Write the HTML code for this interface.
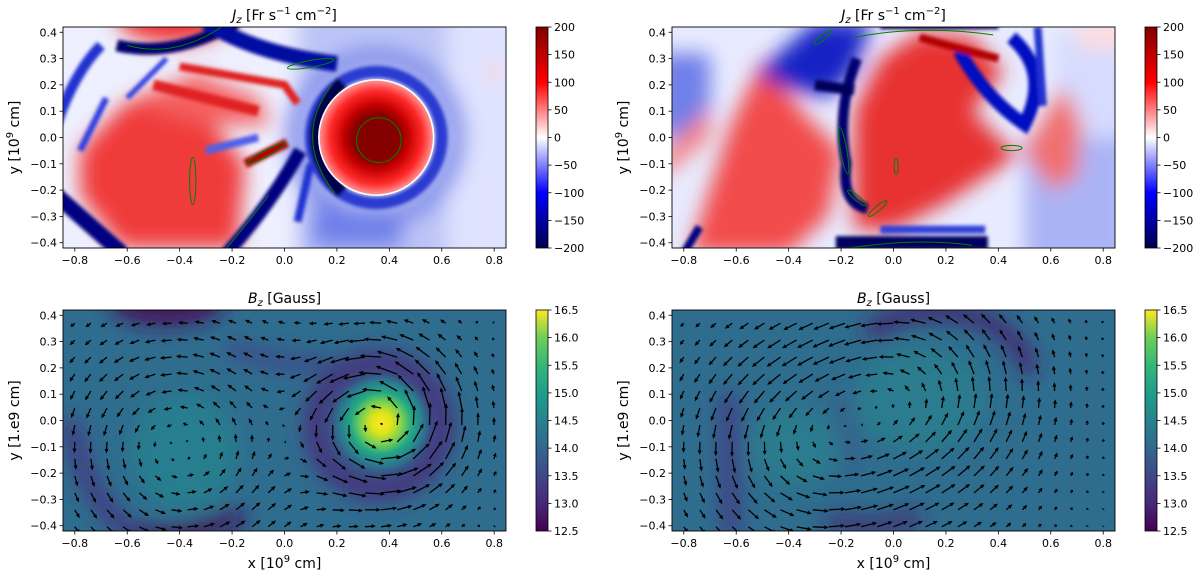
<!DOCTYPE html>
<html><head><meta charset="utf-8"><style>
html,body{margin:0;padding:0;background:#fff;}
svg{display:block;font-family:"DejaVu Sans","Liberation Sans",sans-serif;}
</style></head><body>
<svg id="fig" width="1200" height="578" viewBox="0 0 1200 578" xmlns="http://www.w3.org/2000/svg">
<defs>
  <filter id="pb2" filterUnits="userSpaceOnUse" x="0" y="0" width="1200" height="578"><feGaussianBlur stdDeviation="1.8"/></filter>
  <filter id="pb6" filterUnits="userSpaceOnUse" x="0" y="0" width="1200" height="578"><feGaussianBlur stdDeviation="6"/></filter>
  <filter id="pb10" filterUnits="userSpaceOnUse" x="0" y="0" width="1200" height="578"><feGaussianBlur stdDeviation="10"/></filter>
  <radialGradient id="redDisk"><stop offset="0" stop-color="#800000"/><stop offset="0.42" stop-color="#880000"/><stop offset="0.58" stop-color="#c80000"/><stop offset="0.82" stop-color="#ff2a2a"/><stop offset="1" stop-color="#ff9090"/></radialGradient>
  <radialGradient id="yellowBlob"><stop offset="0" stop-color="#fde725"/><stop offset="0.2" stop-color="#e2e418"/><stop offset="0.42" stop-color="#7ad151"/><stop offset="0.62" stop-color="#22a884"/><stop offset="0.82" stop-color="#2a7f8e"/><stop offset="1" stop-color="#2e6e8e" stop-opacity="0"/></radialGradient>
  <linearGradient id="cbSeismic" x1="0" y1="1" x2="0" y2="0"><stop offset="0" stop-color="#00004c"/><stop offset="0.25" stop-color="#0000ff"/><stop offset="0.5" stop-color="#ffffff"/><stop offset="0.75" stop-color="#ff0000"/><stop offset="1" stop-color="#800000"/></linearGradient>
  <linearGradient id="cbViridis" x1="0" y1="1" x2="0" y2="0"><stop offset="0" stop-color="#440154"/><stop offset="0.125" stop-color="#482878"/><stop offset="0.25" stop-color="#3e4989"/><stop offset="0.375" stop-color="#31688e"/><stop offset="0.5" stop-color="#26828e"/><stop offset="0.625" stop-color="#1f9e89"/><stop offset="0.75" stop-color="#35b779"/><stop offset="0.875" stop-color="#6ece58"/><stop offset="1" stop-color="#fde725"/></linearGradient>
  <clipPath id="cp0"><rect x="63" y="27" width="443" height="221"/></clipPath>
  <clipPath id="cp1"><rect x="672" y="27" width="443" height="221"/></clipPath>
  <clipPath id="cp2"><rect x="63" y="310" width="443" height="221"/></clipPath>
  <clipPath id="cp3"><rect x="672" y="310" width="443" height="221"/></clipPath>
  <clipPath id="leftHalf"><rect x="0" y="0" width="600" height="578"/></clipPath>
</defs>

<!-- Panel 0: Jz left -->
<g clip-path="url(#cp0)">
 <rect x="60" y="20" width="450" height="235" fill="#eef0ff"/>
 <g filter="url(#pb10)"><g transform="translate(284.5,137.5) scale(262.1,-263.1)">
   <rect x="0.05" y="-0.5" width="0.85" height="1" fill="#bcc4f6"/>
   <rect x="0.62" y="-0.5" width="0.3" height="1" fill="#dfe3ff"/>
   <ellipse cx="0.8" cy="0.25" rx="0.03" ry="0.03" fill="#ffd0d0"/>
   <polygon points="-0.78,-0.05 -0.62,0.12 -0.45,0.2 -0.3,0.08 -0.15,-0.1 -0.18,-0.42 -0.62,-0.42 -0.78,-0.22" fill="#f03a3a"/>
   <polygon points="-0.55,0.12 -0.35,0.25 -0.1,0.15 -0.05,0.05 -0.3,0.05" fill="#f46060"/>
   <ellipse cx="-0.42" cy="0.46" rx="0.22" ry="0.1" fill="#ee3030"/>
   <rect x="0.1" y="-0.42" width="0.35" height="0.15" fill="#7080ea"/>
   <circle cx="0.35" cy="0" r="0.31" fill="none" stroke="#7080e8" stroke-width="0.06"/>
 </g></g>
 <g filter="url(#pb2)"><g transform="translate(284.5,137.5) scale(262.1,-263.1)" fill="none">
   <path d="M-0.87,0.05 Q-0.8,0.25 -0.7,0.35" stroke="#2030d0" stroke-width="0.04"/>
   <path d="M-0.87,-0.22 L-0.62,-0.44" stroke="#000080" stroke-width="0.06"/>
   <path d="M-0.78,-0.05 L-0.68,0.15" stroke="#3040e0" stroke-width="0.025"/>
   <path d="M-0.64,0.35 Q-0.42,0.3 -0.18,0.44" stroke="#00006a" stroke-width="0.045"/>
   <path d="M-0.3,0.44 Q-0.12,0.32 0.2,0.28" stroke="#0010a0" stroke-width="0.06"/>
   <path d="M-0.22,-0.44 Q-0.05,-0.25 0.06,-0.05" stroke="#000080" stroke-width="0.05"/>
   <path d="M0.05,-0.32 L0.1,-0.1" stroke="#2030d0" stroke-width="0.03"/>
   <path d="M-0.6,0.15 L-0.45,0.3" stroke="#3040e0" stroke-width="0.02"/>
   <path d="M-0.3,-0.05 L-0.1,0.0" stroke="#5060e8" stroke-width="0.03"/>
   <path d="M-0.5,0.2 L-0.1,0.1" stroke="#e02020" stroke-width="0.04"/>
   <path d="M-0.4,0.27 L0.0,0.2 L0.05,0.13" stroke="#e02020" stroke-width="0.03"/>
   <path d="M-0.15,-0.1 L0.01,-0.02" stroke="#b00000" stroke-width="0.035"/>
   <circle cx="0.35" cy="0" r="0.25" stroke="#2a3ad0" stroke-width="0.045"/>
   <path d="M0.22,0.21 Q0.02,0 0.22,-0.21" stroke="#00004c" stroke-width="0.05"/>
 </g></g>
 <g transform="translate(284.5,137.5) scale(262.1,-263.1)">
  <circle cx="0.35" cy="0" r="0.222" fill="#ffffff"/>
  <circle cx="0.35" cy="0" r="0.216" fill="url(#redDisk)"/>
  <g fill="none" stroke="#008000" stroke-width="1">
   <circle cx="0.36" cy="-0.01" r="0.085" vector-effect="non-scaling-stroke"/>
   <ellipse cx="-0.35" cy="-0.165" rx="0.012" ry="0.09" vector-effect="non-scaling-stroke"/>
   <ellipse cx="-0.07" cy="-0.06" rx="0.08" ry="0.012" transform="rotate(28 -0.07 -0.06)" vector-effect="non-scaling-stroke"/>
   <ellipse cx="0.1" cy="0.28" rx="0.09" ry="0.013" transform="rotate(10 0.1 0.28)" vector-effect="non-scaling-stroke"/>
   <path d="M0.18,0.2 Q0.03,0 0.19,-0.21" vector-effect="non-scaling-stroke"/>
   <path d="M-0.6,0.35 Q-0.42,0.3 -0.24,0.42" vector-effect="non-scaling-stroke"/>
   <path d="M-0.22,-0.42 Q-0.12,-0.3 -0.06,-0.22" vector-effect="non-scaling-stroke"/>
  </g>
 </g>
</g>

<!-- Panel 1: Jz right -->
<g clip-path="url(#cp1)">
 <rect x="668" y="20" width="450" height="235" fill="#e8ebff"/>
 <g filter="url(#pb10)"><g transform="translate(893.5,137.5) scale(262.1,-263.1)">
   <rect x="0.5" y="-0.5" width="0.4" height="0.5" fill="#aab4f5"/>
   <rect x="0.62" y="0" width="0.3" height="0.4" fill="#d6dbff"/>
   <rect x="0.7" y="0.34" width="0.2" height="0.1" fill="#ffdcdc"/>
   <rect x="-0.9" y="0" width="0.2" height="0.32" fill="#6f7fe9"/>
   <polygon points="-0.78,-0.44 -0.62,0.05 -0.5,0.3 -0.35,0.1 -0.2,-0.05 -0.25,-0.3 -0.4,-0.44" fill="#f24c4c"/>
   <polygon points="-0.15,-0.35 -0.15,0.1 -0.05,0.3 0.1,0.4 0.3,0.38 0.42,0.25 0.3,0.1 0.45,-0.05 0.5,-0.05 0.35,-0.15 0.2,-0.25 0.0,-0.35" fill="#e83030"/>
   <polygon points="0.5,-0.05 0.65,0.2 0.72,0.05 0.7,-0.15 0.6,-0.2" fill="#f07070"/>
   <polygon points="-0.9,-0.08 -0.7,0.12 -0.7,0.0 -0.88,-0.15" fill="#f58080"/>
   <polygon points="-0.52,0.25 -0.3,0.44 -0.08,0.44 -0.15,0.25 -0.25,0.15 -0.45,0.2" fill="#1424c4"/>
 </g></g>
 <g filter="url(#pb2)"><g transform="translate(893.5,137.5) scale(262.1,-263.1)" fill="none">
   <path d="M-0.14,0.3 Q-0.22,0.1 -0.18,-0.1 Q-0.2,-0.25 -0.1,-0.27" stroke="#000070" stroke-width="0.04"/>
   <path d="M-0.05,0.43 L0.4,0.43" stroke="#000060" stroke-width="0.035"/>
   <path d="M0.25,0.33 Q0.35,0.15 0.5,0.05 Q0.6,0.25 0.45,0.38" stroke="#0010c0" stroke-width="0.05"/>
   <path d="M0.55,0.42 L0.57,0.12" stroke="#2030d0" stroke-width="0.03"/>
   <path d="M-0.22,-0.4 L0.36,-0.4" stroke="#000060" stroke-width="0.05"/>
   <path d="M-0.05,-0.35 L0.35,-0.35" stroke="#3040d8" stroke-width="0.03"/>
   <path d="M-0.8,-0.44 L-0.74,-0.34" stroke="#000080" stroke-width="0.03"/>
   <path d="M-0.3,0.2 L-0.15,0.18" stroke="#00005a" stroke-width="0.04"/>
   <path d="M0.4,0.3 Q0.2,0.35 0.1,0.38" stroke="#b00000" stroke-width="0.03"/>
 </g></g>
 <g transform="translate(893.5,137.5) scale(262.1,-263.1)" fill="none" stroke="#008000" stroke-width="1">
   <ellipse cx="-0.19" cy="-0.05" rx="0.012" ry="0.09" transform="rotate(10 -0.19 -0.05)" vector-effect="non-scaling-stroke"/>
   <ellipse cx="0.45" cy="-0.04" rx="0.04" ry="0.01" vector-effect="non-scaling-stroke"/>
   <ellipse cx="0.01" cy="-0.11" rx="0.008" ry="0.03" vector-effect="non-scaling-stroke"/>
   <ellipse cx="-0.14" cy="-0.23" rx="0.045" ry="0.01" transform="rotate(-40 -0.14 -0.23)" vector-effect="non-scaling-stroke"/>
   <ellipse cx="-0.06" cy="-0.27" rx="0.045" ry="0.01" transform="rotate(40 -0.06 -0.27)" vector-effect="non-scaling-stroke"/>
   <ellipse cx="-0.27" cy="0.38" rx="0.04" ry="0.01" transform="rotate(40 -0.27 0.38)" vector-effect="non-scaling-stroke"/>
   <path d="M-0.17,-0.42 Q0.1,-0.38 0.3,-0.41" vector-effect="non-scaling-stroke"/>
   <path d="M-0.15,0.38 Q0.1,0.43 0.38,0.39" vector-effect="non-scaling-stroke"/>
 </g>
</g>

<!-- Panel 2: Bz left -->
<g clip-path="url(#cp2)">
 <rect x="60" y="305" width="450" height="235" fill="#2f6d8e"/>
 <g filter="url(#pb10)"><g transform="translate(284.5,420.5) scale(262.1,-263.1)" fill="none">
   <ellipse cx="-0.38" cy="-0.12" rx="0.2" ry="0.22" fill="#25858e" opacity="0.7"/>
   <ellipse cx="-0.45" cy="0.45" rx="0.22" ry="0.09" fill="#45175c"/>
   <circle cx="0.36" cy="-0.02" r="0.24" stroke="#46327e" stroke-width="0.09"/>
   <path d="M-0.82,0.0 Q-0.75,-0.35 -0.55,-0.44" stroke="#463080" stroke-width="0.06"/>
   <path d="M-0.58,-0.44 Q-0.35,-0.45 -0.16,-0.36" stroke="#44105a" stroke-width="0.06"/>
   <path d="M-0.22,0.28 Q0.0,0.2 0.17,0.22" stroke="#3e4a89" stroke-width="0.06"/>
 </g></g>
 <g transform="translate(284.5,420.5) scale(262.1,-263.1)">
  <circle cx="0.37" cy="-0.01" r="0.19" fill="url(#yellowBlob)"/>
 </g>
 <g id="quiver0"></g>
</g>

<!-- Panel 3: Bz right -->
<g clip-path="url(#cp3)">
 <rect x="668" y="305" width="450" height="235" fill="#2f6d8e"/>
 <g filter="url(#pb10)"><g transform="translate(893.5,420.5) scale(262.1,-263.1)" fill="none">
   <ellipse cx="0.1" cy="0.08" rx="0.25" ry="0.2" fill="#25858e" opacity="0.6"/>
   <ellipse cx="-0.38" cy="-0.1" rx="0.17" ry="0.15" fill="#25858e" opacity="0.6"/>
   <path d="M-0.1,0.33 Q0.1,0.47 0.35,0.38 Q0.5,0.3 0.52,0.18" stroke="#46206f" stroke-width="0.06"/>
   <path d="M-0.63,0.1 L-0.62,-0.44" stroke="#433e85" stroke-width="0.07"/>
   <path d="M-0.25,-0.38 Q-0.05,-0.43 0.1,-0.36" stroke="#46206f" stroke-width="0.05"/>
   <path d="M-0.2,0.1 L-0.15,-0.2" stroke="#3b528b" stroke-width="0.03"/>
 </g></g>
 <g id="quiver1"></g>
</g>

<g id="axes"></g>
</svg>
<script>
// ---- data ----
const xTicks = [-0.8,-0.6,-0.4,-0.2,0.0,0.2,0.4,0.6,0.8];
const yTicks = [0.4,0.3,0.2,0.1,0.0,-0.1,-0.2,-0.3,-0.4];
const cbJTicks = [200,150,100,50,0,-50,-100,-150,-200];
const cbBTicks = [16.5,16.0,15.5,15.0,14.5,14.0,13.5,13.0,12.5];
// quiver vortices (left Bz panel)
const vortexLeftCx = [0.37,-0.40];
const vortexLeftCy = [-0.01,-0.10];
const vortexLeftStrength = [0.085,0.045];
const vortexLeftRadius = [0.20,0.32];
// quiver vortices (right Bz panel)
const vortexRightCx = [0.10,-0.36];
const vortexRightCy = [0.10,-0.10];
const vortexRightStrength = [0.05,0.048];
const vortexRightRadius = [0.30,0.30];

const NS='http://www.w3.org/2000/svg';
const panels=[
 {l:63,t:27,w:443,h:221,cb:'cbSeismic',ticks:cbJTicks,lo:-200,hi:200,name:'jz-left',clip:true},
 {l:672,t:27,w:443,h:221,cb:'cbSeismic',ticks:cbJTicks,lo:-200,hi:200,name:'jz-right',clip:false},
 {l:63,t:310,w:443,h:221,cb:'cbViridis',ticks:cbBTicks,lo:12.5,hi:16.5,name:'bz-left',clip:true},
 {l:672,t:310,w:443,h:221,cb:'cbViridis',ticks:cbBTicks,lo:12.5,hi:16.5,name:'bz-right',clip:false}
];
function mk(tag,attrs,parent){const e=document.createElementNS(NS,tag);for(const k in attrs)e.setAttribute(k,attrs[k]);parent.appendChild(e);return e;}
const axes=document.getElementById('axes');
function fmt(v){const s=(Math.abs(v)<1e-9?0:v).toFixed(1);return s.replace('-','\u2212');}
function fmtI(v){return String(v).replace('-','\u2212');}
const TF=11;

panels.forEach((p,i)=>{
 const X=x=>p.l+(x+0.845)/1.69*p.w;
 const Y=y=>p.t+(0.42-y)/0.84*p.h;
 const g=mk('g',{},axes);
 
 
 const frame=mk('rect',{x:p.l,y:p.t,width:p.w,height:p.h,fill:'none',stroke:'#000','stroke-width':0.9},g);
 
 
 xTicks.forEach(v=>{
  const x=X(v);
  mk('line',{x1:x,x2:x,y1:p.t+p.h,y2:p.t+p.h+3.5,stroke:'#000','stroke-width':0.8},g);
  const t=mk('text',{x:x,y:p.t+p.h+16,'font-size':TF,'text-anchor':'middle',fill:'#000'},g);
  t.textContent=fmt(v);
  
  
 });
 yTicks.forEach(v=>{
  const y=Y(v);
  mk('line',{x1:p.l,x2:p.l-3.5,y1:y,y2:y,stroke:'#000','stroke-width':0.8},g);
  const t=mk('text',{x:p.l-6,y:y+4,'font-size':TF,'text-anchor':'end',fill:'#000'},g);
  t.textContent=fmt(v);
  
  
 });
 const cx=p.l+p.w/2;
 const tt=mk('text',{x:cx,y:p.t-7,'font-size':14,'text-anchor':'middle',fill:'#000'},g);
 
 
 if(i<2){
  tt.innerHTML='<tspan font-style="italic">J</tspan><tspan font-style="italic" font-size="10" dy="3">z</tspan><tspan dy="-3"> [Fr s</tspan><tspan font-size="10" dy="-6">\u22121</tspan><tspan dy="6"> cm</tspan><tspan font-size="10" dy="-6">\u22122</tspan><tspan dy="6">]</tspan>';
 } else {
  tt.innerHTML='<tspan font-style="italic">B</tspan><tspan font-style="italic" font-size="10" dy="3">z</tspan><tspan dy="-3"> [Gauss]</tspan>';
 }
 const yl=mk('text',{x:0,y:0,'font-size':14,'text-anchor':'middle',fill:'#000',transform:`translate(${p.l-44},${p.t+p.h/2}) rotate(-90)`},g);
 
 
 if(i<2) yl.innerHTML='y [10<tspan font-size="10" dy="-6">9</tspan><tspan dy="6"> cm]</tspan>';
 else yl.textContent='y [1.e9 cm]';
 if(i>=2){
  const xl=mk('text',{x:cx,y:p.t+p.h+37,'font-size':14,'text-anchor':'middle',fill:'#000'},g);
  
  
  xl.innerHTML='x [10<tspan font-size="10" dy="-6">9</tspan><tspan dy="6"> cm]</tspan>';
 }
 const cg=mk('g',{},g);
 
 
 if(p.clip) cg.setAttribute('clip-path','url(#leftHalf)');
 const cbx=p.l+473;
 mk('rect',{x:cbx,y:p.t,width:12,height:p.h,fill:`url(#${p.cb})`,stroke:'#000','stroke-width':0.8},cg);
 p.ticks.forEach(v=>{
  const y=p.t+(p.hi-v)/(p.hi-p.lo)*p.h;
  mk('line',{x1:cbx+12,x2:cbx+15.5,y1:y,y2:y,stroke:'#000','stroke-width':0.8},cg);
  const t=mk('text',{x:cbx+18,y:y+4,'font-size':TF,fill:'#000'},cg);
  t.textContent=(i<2?fmtI(v):v.toFixed(1));
  
  
 });
});

function drawQuiver(id,p,cxs,cys,ss,rs){
 const gq=document.getElementById(id);
 
 
 const X=x=>p.l+(x+0.845)/1.69*p.w;
 const Y=y=>p.t+(0.42-y)/0.84*p.h;
 const sx=p.w/1.69;
 for(let r=0;r<13;r++){
  for(let c=0;c<27;c++){
   const x=-0.8+c*0.0615, y=0.37-r*0.0645;
   let vx=0,vy=0;
   for(let k=0;k<cxs.length;k++){
    const dx=x-cxs[k],dy=y-cys[k];const d=Math.hypot(dx,dy)+1e-6;const q=d/rs[k];
    const sp=ss[k]*q*Math.exp((1-q*q)/2);
    vx+=-dy/d*sp; vy+=dx/d*sp;
   }
   const L=Math.hypot(vx,vy)*sx; if(L<0.8) continue;
   const ux=vx/Math.hypot(vx,vy), uy=-vy/Math.hypot(vx,vy);
   const x0=X(x),y0=Y(y),x1=x0+ux*L,y1=y0+uy*L;
   const hl=Math.min(4.5,L*0.6), hw=2;
   const bx=x1-ux*hl, by=y1-uy*hl;
   const a=mk('path',{d:`M${x0.toFixed(1)},${y0.toFixed(1)}L${bx.toFixed(1)},${by.toFixed(1)}`,stroke:'#000','stroke-width':1.3,fill:'none'},gq);
   
   
   const h=mk('path',{d:`M${x1.toFixed(1)},${y1.toFixed(1)}L${(bx-uy*hw).toFixed(1)},${(by+ux*hw).toFixed(1)}L${(bx+uy*hw).toFixed(1)},${(by-ux*hw).toFixed(1)}Z`,fill:'#000'},gq);
   
   
  }
 }
}
drawQuiver('quiver0',panels[2],vortexLeftCx,vortexLeftCy,vortexLeftStrength,vortexLeftRadius);
drawQuiver('quiver1',panels[3],vortexRightCx,vortexRightCy,vortexRightStrength,vortexRightRadius);
</script>
</body></html>
